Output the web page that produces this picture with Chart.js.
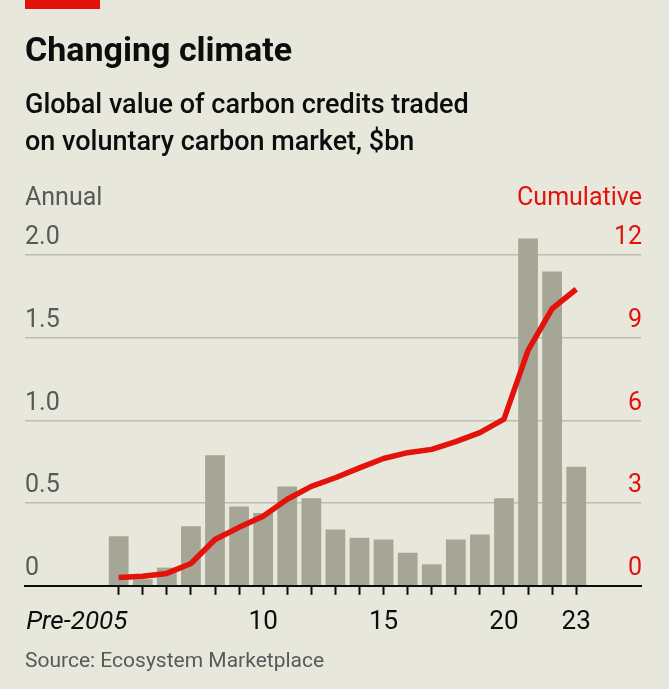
<!DOCTYPE html>
<html>
<head>
<meta charset="utf-8">
<script src="https://cdn.jsdelivr.net/npm/chart.js@4.4.1/dist/chart.umd.min.js"></script>
<style>
  body { margin: 0; background: #e8e7dc; font-family: Roboto, sans-serif; }
  #wrap { position: relative; width: 669px; height: 689px; overflow: hidden; }
  canvas { position: absolute; left: 0; top: 0; }
  .txt { position: absolute; white-space: nowrap; }
  #redbar { position: absolute; left: 25px; top: 0; width: 75px; height: 9px; background: #e3120b; }
  #title { left: 25px; top: 32px; font-size: 34px; line-height: 34px; font-weight: 700; color: #0d0d0d; }
  #sub { left: 25px; top: 86px; font-size: 27px; line-height: 37px; font-weight: 500; color: #0d0d0d; }
  #annual { left: 25px; top: 184px; font-size: 25px; line-height: 25px; color: #595959; }
  #cumul { right: 27px; top: 184px; font-size: 25px; line-height: 25px; color: #e3120b; }
  #source { left: 25px; top: 650px; font-size: 21px; line-height: 21px; color: #595959; }
</style>
</head>
<body>
<div id="wrap">
  <canvas id="chart" width="669" height="689"></canvas>
  <div id="redbar"></div>
  <div class="txt" id="title">Changing climate</div>
  <div class="txt" id="sub">Global value of carbon credits traded<br>on voluntary carbon market, $bn</div>
  <div class="txt" id="annual">Annual</div>
  <div class="txt" id="cumul">Cumulative</div>
  <div class="txt" id="source">Source: Ecosystem Marketplace</div>
</div>
<script>
const years = ['Pre-2005', '2005', '2006', '2007', '2008', '2009', '2010', '2011', '2012', '2013',
  '2014', '2015', '2016', '2017', '2018', '2019', '2020', '2021', '2022', '2023'];
const annual = [0.30, 0.04, 0.11, 0.36, 0.79, 0.48, 0.44, 0.60, 0.53, 0.34,
  0.29, 0.28, 0.20, 0.13, 0.28, 0.31, 0.53, 2.10, 1.90, 0.72];
const cumulative = [0.30, 0.35, 0.45, 0.81, 1.68, 2.12, 2.52, 3.14, 3.61, 3.92,
  4.28, 4.62, 4.83, 4.95, 5.23, 5.56, 6.05, 8.54, 10.06, 10.76];

const xTickYears = ['2010', '2015', '2020', '2023'];
const xTickLabels = ['10', '15', '20', '23'];
const leftTicks = [0, 0.5, 1, 1.5, 2];
const leftLabels = ['0', '0.5', '1.0', '1.5', '2.0'];
const rightTicks = [0, 3, 6, 9, 12];
const rightLabels = ['0', '3', '6', '9', '12'];

const RED = '#e3120b';
const firstYear = 2004; // "Pre-2005" sits one step before 2005
const preLabelPos = 2002.26; // where the left-hanging "Pre-2005" label is centred

const xOf = (i) => firstYear + i;
const barData = annual.map((v, i) => ({ x: xOf(i), y: v }));
const lineData = cumulative.map((v, i) => ({ x: xOf(i), y: v }));

function xLabel(value) {
  if (value === preLabelPos) return 'Pre-2005';
  const k = xTickYears.indexOf(String(value));
  return k >= 0 ? xTickLabels[k] : '';
}

new Chart(document.getElementById('chart'), {
  type: 'bar',
  data: {
    datasets: [
      {
        type: 'line',
        data: lineData,
        yAxisID: 'y1',
        borderColor: RED,
        borderWidth: 5.5,
        pointRadius: 0,
        tension: 0,
        borderJoinStyle: 'round',
        borderCapStyle: 'butt',
        order: 0,
      },
      {
        data: barData,
        yAxisID: 'y',
        backgroundColor: '#a6a696',
        borderWidth: 0,
        categoryPercentage: 1,
        barPercentage: 0.82,
        clip: false,
        order: 1,
      },
    ],
  },
  options: {
    responsive: false,
    animation: false,
    events: [],
    layout: { padding: { left: 25, right: 26, top: 222, bottom: 39 } },
    plugins: { legend: { display: false }, tooltip: { enabled: false } },
    scales: {
      x: {
        type: 'linear',
        min: 2000.11,
        max: 2025.69,
        offset: false,
        z: 1,
        afterBuildTicks: (scale) => {
          const t = years.map((y, i) => ({ value: xOf(i) }));
          t.push({ value: preLabelPos });
          scale.ticks = t;
        },
        ticks: {
          autoSkip: false,
          maxRotation: 0,
          padding: 12,
          color: '#0d0d0d',
          callback: (value) => xLabel(value),
          font: (ctx) => ({
            family: 'Roboto',
            size: 26,
            style: ctx.tick && ctx.tick.value === preLabelPos ? 'italic' : 'normal',
          }),
        },
        grid: {
          offset: false,
          drawOnChartArea: false,
          drawTicks: true,
          tickLength: 9,
          tickWidth: 2,
          tickColor: (ctx) => (ctx.tick && ctx.tick.value === preLabelPos ? 'rgba(0,0,0,0)' : '#0d0d0d'),
        },
        border: { display: true, color: '#0d0d0d', width: 2 },
      },
      y: {
        position: 'left',
        min: 0,
        max: 2.2,
        afterBuildTicks: (scale) => {
          scale.ticks = leftTicks.map((v) => ({ value: v }));
        },
        ticks: {
          mirror: true,
          padding: 0,
          labelOffset: -17,
          color: '#595959',
          font: { family: 'Roboto', size: 25 },
          callback: (value) => leftLabels[leftTicks.indexOf(value)],
        },
        grid: { color: '#bdbcb1', lineWidth: 1.5, drawTicks: false },
        border: { display: false },
      },
      y1: {
        position: 'right',
        min: 0,
        max: 13.2,
        afterBuildTicks: (scale) => {
          scale.ticks = rightTicks.map((v) => ({ value: v }));
        },
        ticks: {
          mirror: true,
          padding: 1,
          labelOffset: -17,
          color: RED,
          font: { family: 'Roboto', size: 25 },
          callback: (value) => rightLabels[rightTicks.indexOf(value)],
        },
        grid: { display: false, drawTicks: false },
        border: { display: false },
      },
    },
  },
});
</script>
</body>
</html>
